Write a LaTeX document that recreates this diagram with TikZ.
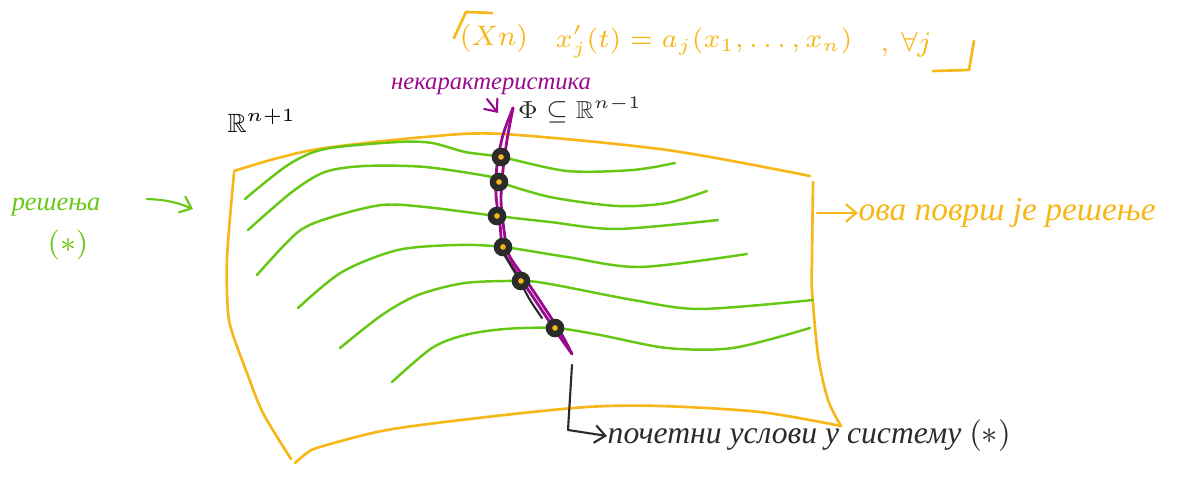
\documentclass[tikz,border=0pt]{standalone}
\usepackage{amsmath,amssymb}
\usepackage{fix-cm}
\usepackage{fontspec}
\setmainfont{Liberation Serif}
\usetikzlibrary{arrows.meta}
\definecolor{surforange}{HTML}{F7B718}
\definecolor{solgreen}{HTML}{66C814}
\definecolor{ncpurple}{HTML}{9A0A8E}
\definecolor{inkgray}{HTML}{2B2B2B}

\begin{document}
\begin{tikzpicture}[x=0.01cm,y=-0.01cm,line cap=round,line join=round,
    edge/.style={surforange,line width=0.75pt},
    sol/.style={solgreen,line width=0.7pt},
    pt/.style={circle,fill=inkgray,draw=inkgray,line width=0.5pt,inner sep=0pt,minimum size=4.8pt},
    hand/.style={font=\itshape\fontsize{#1}{#1}\selectfont,inner sep=0pt},
    barb/.style={-{Straight Barb[length=3pt,width=5pt]},line width=0.6pt}]
    \useasboundingbox (0,0) rectangle (1181,480);
    % the surface
    \draw[edge] plot[smooth] coordinates {(234,171) (278,158) (325,148) (425,137) (502,134) (667,150) (810,176)};
    \draw[edge] plot[smooth] coordinates {(813,182) (812,258) (812,290) (818,355) (828,400) (841,426)};
    \draw[edge] plot[smooth] coordinates {(295,463) (307,453) (320,447) (387,430) (487,417) (587,407) (660,406) (760,412) (841,426)};
    \draw[edge] plot[smooth] coordinates {(234,173) (227,258) (228,312) (233,335) (247,373) (263,413) (291,459)};
    % solutions
    \draw[sol] plot[smooth] coordinates {(245,199) (288,165) (325,149) (398,142) (432,143) (465,152) (501,157) (567,171) (633,170) (675,163)};
    \draw[sol] plot[smooth] coordinates {(248,230) (292,192) (325,172) (365,166) (425,167) (492,177) (499,182) (550,197) (617,206) (667,203) (707,191)};
    \draw[sol] plot[smooth] coordinates {(257,275) (298,232) (332,217) (382,205) (425,207) (497,216) (550,222) (617,229) (718,220)};
    \draw[sol] plot[smooth] coordinates {(298,308) (342,272) (398,250) (458,245) (503,247) (567,257) (640,267) (747,254)};
    \draw[sol] plot[smooth] coordinates {(340,348) (382,315) (418,295) (465,283) (521,281) (550,284) (633,300) (700,309) (813,300)};
    \draw[sol] plot[smooth] coordinates {(392,382) (432,348) (465,335) (505,329) (555,328) (600,335) (667,348) (733,348) (810,328)};
    % non-characteristic curve
    \draw[ncpurple,line width=0.8pt] plot[smooth] coordinates {(513,108) (503,135) (497,165) (496,195) (500,225) (503,250) (515,270) (535,300) (555,330) (572,354)};
    \draw[ncpurple,line width=0.8pt] plot[smooth] coordinates {(513,108) (507,140) (503,170) (501,200) (504,230) (509,255) (526,280) (546,310) (562,335) (572,354)};
    \draw[inkgray,line width=0.6pt] plot[smooth] coordinates {(505,256) (518,278) (530,300) (542,318)};
    % initial points
    \foreach \x/\y [count=\i] in {501/157, 499/182, 497/216, 503/247, 521/281, 555/328}
        \node[pt] (d\i) at (\x,\y) {};
    \foreach \i in {1,...,6}
        \fill[surforange] (d\i) circle (0.8pt);
    % labels
    \node[hand=7.5] (rn1) at (262,121) {$\mathbb{R}^{n+1}$};
    \node[hand=7,text=inkgray] (phi) at (580,110) {$\Phi\subseteq\mathbb{R}^{n-1}$};
    \node[hand=7,text=ncpurple] (nonchar) at (491,86) {некарактеристика};
    \node[hand=8,text=surforange] (sysname) at (494,38) {$(Xn)$};
    \node[hand=7.5,text=surforange] (ode) at (704,42) {$x_j'(t)=a_j(x_1,\ldots,x_n)$};
    \node[hand=8,text=surforange] (forall) at (906,44) {$,\ \forall j$};
    \node[hand=7.5,text=solgreen] (sols) at (56,207) {решења};
    \node[hand=8.5,text=solgreen] (star) at (68,245) {$(\ast)$};
    \node[hand=9.5,text=surforange,anchor=west] (thissurf) at (858,213) {ова површ је решење};
    \node[hand=9,text=inkgray,anchor=west] (initcond) at (607,436) {почетни услови у систему $(\ast)$};
    % bracket round the system
    \draw[edge] (454,38) -- (466,12) -- (492,13);
    \draw[edge] (974,41) -- (969,70) -- (933,71);
    % arrows
    \coordinate (ga) at (147,199);
    \coordinate (gb) at (193,209);
    \draw[sol,barb] (ga) to[bend left=10] (gb);
    \coordinate (oa) at (817,213);
    \draw[surforange,barb] (oa) -- (thissurf.west);
    \coordinate (pa) at (487,99);
    \coordinate (pb) at (498,113);
    \draw[ncpurple,barb] (pa) -- (pb);
    \coordinate (ba) at (572,365);
    \draw[inkgray,barb] (ba) -- (568,430) -- (initcond.west);
\end{tikzpicture}
\end{document}
